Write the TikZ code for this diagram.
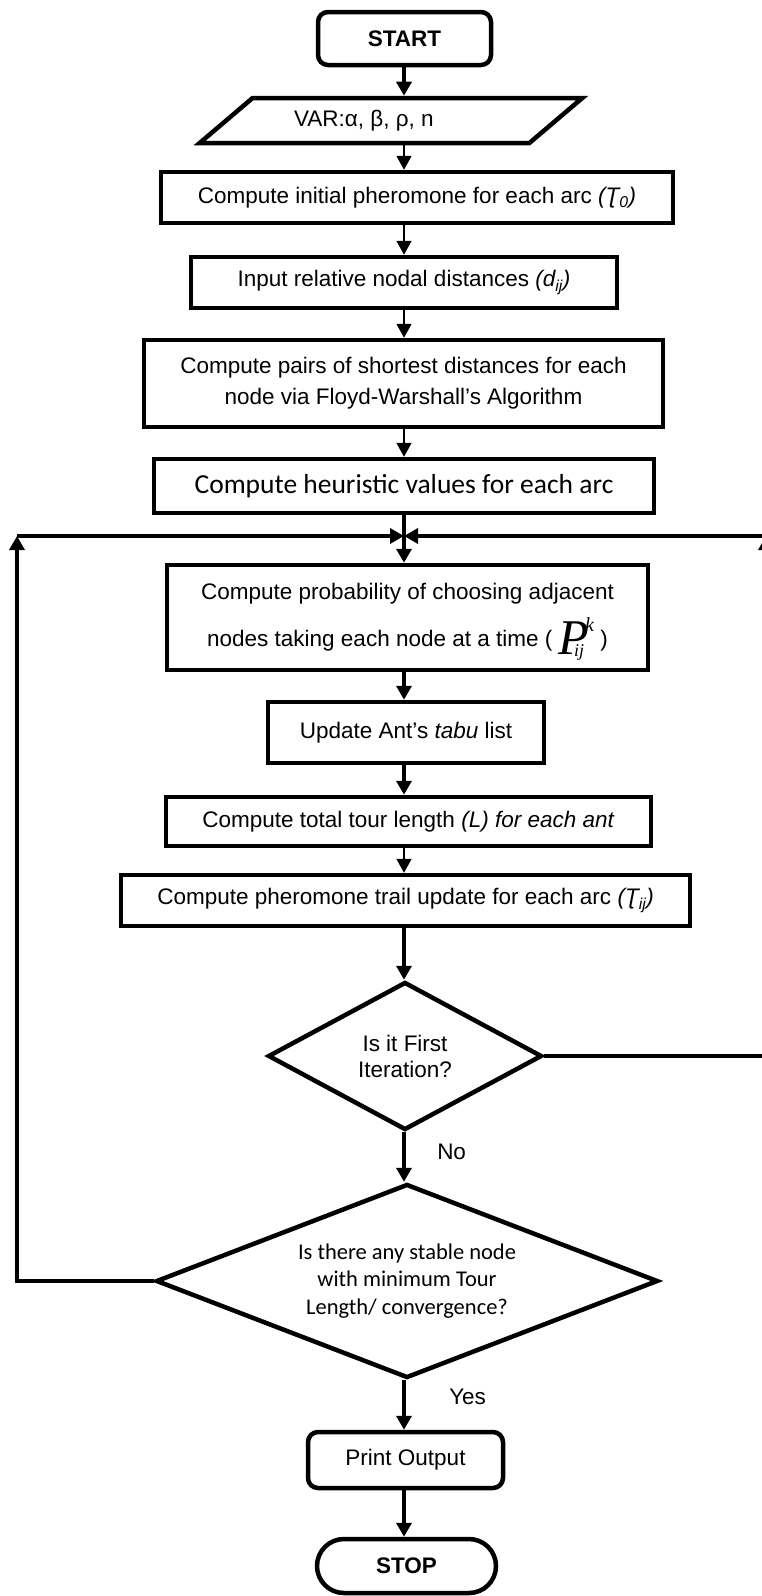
\documentclass[tikz,border=0pt]{standalone}
\usepackage{fontspec}
\setmainfont{Liberation Sans}
\newfontfamily\calibfont{Carlito}
\newfontfamily\timesfont{Liberation Serif}
\usepackage{tikz}
\usetikzlibrary{shapes.geometric, arrows.meta, positioning, calc}
% probability symbol P_ij^k as it sits in the box
\newcommand{\probsym}{\smash{\raisebox{-8pt}{\timesfont\itshape\fontsize{50}{50}\selectfont P}\kern-15pt\raisebox{-10pt}{\timesfont\itshape\fontsize{18}{18}\selectfont ij}\kern1pt\raisebox{15pt}{\timesfont\itshape\fontsize{20}{20}\selectfont k}}}

\begin{document}
\begin{tikzpicture}[
  x=1pt, y=-1pt,
  font=\fontsize{22.5}{31}\selectfont,
  box/.style={rectangle, draw, line width=4.5pt, inner sep=0pt, align=center},
  term/.style={box, rounded corners=10pt},
  io/.style={trapezium, draw, line width=4.5pt, trapezium stretches=true,
             trapezium left angle=31.5, trapezium right angle=148.5, inner sep=1pt},
  decision/.style={diamond, draw, line width=4.5pt, inner sep=0pt, align=center},
  arr/.style={-{Triangle[length=14pt, width=15pt]}, line width=4.5pt},
  tarr/.style={-{Triangle[length=14pt, width=15pt]}, line width=1.8pt},
  lbl/.style={inner sep=0pt, anchor=west}
]
\useasboundingbox (0,0) rectangle (761,1596);
\coordinate (col) at (404,0);

% ===== Set-up column =====
\node[term, minimum width=173, minimum height=53,
      font=\fontsize{22.5}{27}\selectfont\bfseries] (start) at (404.5,38.5) {START};
\node[io, minimum width=384, minimum height=45] (var) at (391,120.5)
     {\makebox[194pt][l]{VAR:α, β, ρ, n}};
\node[box, minimum width=512, minimum height=51] (init) at (417,197.5)
     {Compute initial pheromone for each arc \textit{(Ʈ\textsubscript{0})}};
\node[box, minimum width=426, minimum height=51] (dist) at (404,282.5)
     {Input relative nodal distances \textit{(d\textsubscript{ij})}};
\node[box, minimum width=519, minimum height=87] (floyd) at (403.5,383.5)
     {Compute pairs of shortest distances for each\\node via Floyd-Warshall’s Algorithm};
\node[box, minimum width=500, minimum height=54,
      font=\calibfont\fontsize{27.5}{33}\selectfont] (heur) at (404,486)
     {Compute heuristic values for each arc};

% ===== Ant loop =====
\coordinate (join) at (404,536);
\node[box, minimum width=481, minimum height=105,
      font=\fontsize{22.5}{47}\selectfont] (prob) at (407.5,617.5)
     {Compute probability of choosing adjacent\\nodes taking each node at a time ( \probsym{} )};
\node[box, minimum width=276, minimum height=61] (tabu) at (406,732.5)
     {Update Ant’s \textit{tabu} list};
\node[box, minimum width=485, minimum height=49] (tour) at (408.5,821.5)
     {Compute total tour length \textit{(L) for each ant}};
\node[box, minimum width=569, minimum height=51] (trail) at (405.5,900.5)
     {Compute pheromone trail update for each arc \textit{(Ʈ\textsubscript{ij})}};

% ===== Decisions =====
\node[decision, minimum width=274, minimum height=148, shape aspect=1.85,
      font=\fontsize{22.5}{26}\selectfont] (first) at (405,1056) {Is it First\\Iteration?};
\node[decision, minimum width=502, minimum height=194, shape aspect=2.6,
      font=\calibfont\fontsize{22.5}{27.5}\selectfont] (stable) at (407,1281)
     {Is there any stable node\\with minimum Tour\\Length/ convergence?};

\node[term, minimum width=195, minimum height=56] (output) at (405.5,1460) {Print Output};
\node[box, rounded corners=27pt, minimum width=179, minimum height=54,
      font=\fontsize{22.5}{27}\selectfont\bfseries] (stop) at (406.5,1566) {STOP};

% ===== Arrows (main column) =====
\draw[arr]  (start.south -| col) -- (var.north -| col);
\draw[tarr] (var.south -| col)   -- (init.north -| col);
\draw[tarr] (init.south -| col)  -- (dist.north -| col);
\draw[tarr] (dist.south -| col)  -- (floyd.north -| col);
\draw[tarr] (floyd.south -| col) -- (heur.north -| col);
\draw[arr]  (heur.south -| col)  -- (prob.north -| col);
\draw[arr]  (prob.south -| col)  -- (tabu.north -| col);
\draw[arr]  (tabu.south -| col)  -- (tour.north -| col);
\draw[tarr] (tour.south -| col)  -- (trail.north -| col);
\draw[arr]  (trail.south -| col) -- (first.north -| col);
\draw[arr]  (first.south -| col) -- node[lbl, pos=0.4, xshift=31pt]{No} (stable.north -| col);
\draw[arr]  (stable.south -| col) -- node[lbl, pos=0.34, xshift=43pt]{Yes} (output.north -| col);
\draw[arr]  (output.south -| col) -- (stop.north -| col);

% ===== Feedback lines =====
\coordinate (lefttop)  at (17,536);
\coordinate (righttop) at (766,536);
\draw[arr] (stable.west) -| (lefttop);
\draw[arr] (lefttop) -- (join);
\draw[arr] (first.east) -| (righttop);
\draw[arr] (righttop) -- (join);

\end{tikzpicture}
\end{document}
